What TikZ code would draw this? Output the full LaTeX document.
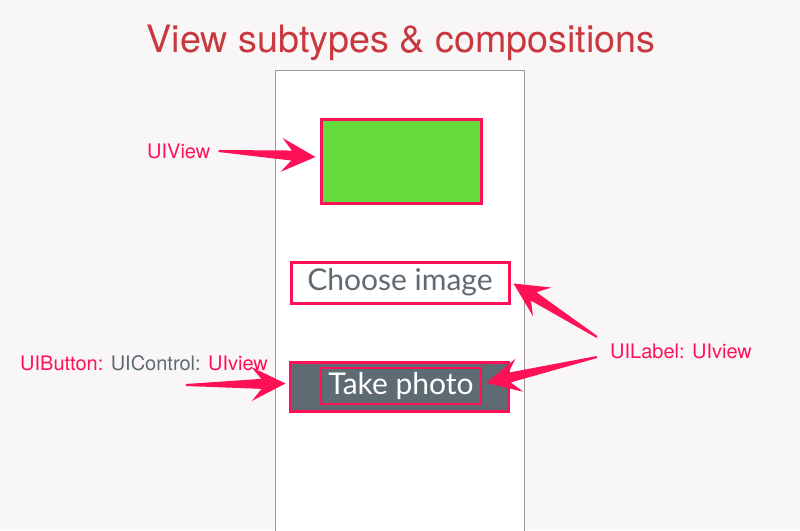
\documentclass[tikz,border=0pt]{standalone}
\usepackage{fontspec}
\setmainfont{TeX Gyre Heros}
\newfontfamily\btnfont{Lato}
\usepackage{tikz}
\usetikzlibrary{calc,positioning}

\definecolor{bgcol}{HTML}{F8F6F7}
\definecolor{titlered}{HTML}{C8383E}
\definecolor{hotpink}{HTML}{FF1158}
\definecolor{slategray}{HTML}{5F6B73}
\definecolor{viewgreen}{HTML}{64DA3C}
\definecolor{framegray}{HTML}{9A9A9A}

% tapered arrow in the style of a screenshot markup tool
\newcommand{\skarrow}[2]{%
  \coordinate (hb) at ($(#2)!24pt!(#1)$);
  \coordinate (hw) at ($(#2)!34pt!(#1)$);
  \fill[hotpink] ($(#1)!1pt!90:(#2)$) -- ($(hb)!5pt!-90:(#1)$)
    -- ($(hw)!17pt!-90:(#1)$) -- (#2) -- ($(hw)!17pt!90:(#1)$)
    -- ($(hb)!5pt!90:(#1)$) -- ($(#1)!1pt!-90:(#2)$) -- cycle;
}

\begin{document}
\begin{tikzpicture}[
    x=1pt, y=-1pt,
    box/.style={rectangle, draw=hotpink, line width=3pt, inner sep=0pt},
    btntext/.style={font=\btnfont\fontsize{30}{32}\selectfont},
    tag/.style={font=\fontsize{20}{22}\selectfont, text=hotpink, inner sep=0pt}
]

% Background and bounding box
\fill[bgcol] (0,0) rectangle (800,530);
\useasboundingbox (0,0) rectangle (800,530);

% Title
\node[font=\fontsize{37.7}{40}\selectfont, text=titlered, anchor=base] (title) at (401,52) {View subtypes \& compositions};

% Draw the phone screen
\draw[framegray, fill=white, line width=0.8pt] (275,532) -- (275,70) -- (524,70) -- (524,532);

% Subviews
\node[box, fill=viewgreen, minimum width=160pt, minimum height=84pt] (green) at (401,161) {};
\node[box, fill=white, minimum width=218pt, minimum height=41pt, btntext, text=slategray] (choose) at (400,282.5) {Choose image};
\node[box, fill=slategray, minimum width=218pt, minimum height=49pt] (button) at (399,386.5) {};
\node[box, line width=2.5pt, minimum width=160pt, minimum height=36pt, btntext, text=white] (photo) at (401,386) {Take photo};

% Type labels
\node[tag, anchor=west] (uiview) at (147,151) {UIView};
\node[tag, anchor=west] (uilabel) at (610,351) {UILabel: UIview};
\node[tag, anchor=west] (uibutton) at (20,363) {UIButton: \textcolor{slategray}{UIControl:} UIview};

% Arrows
\coordinate (t1) at ([xshift=8pt]uiview.east);
\coordinate (h1) at ([xshift=-4pt, yshift=4pt]green.west);
\skarrow{t1}{h1}
\coordinate (t2) at ([xshift=-13pt, yshift=14pt]uilabel.west);
\coordinate (h2) at ([xshift=3pt, yshift=-1pt]choose.east);
\skarrow{t2}{h2}
\coordinate (t3) at ([xshift=-13pt, yshift=-6pt]uilabel.west);
\coordinate (h3) at ([xshift=4pt, yshift=3pt]photo.east);
\skarrow{t3}{h3}
\coordinate (t4) at ([xshift=166pt, yshift=-22pt]uibutton.west);
\coordinate (h4) at ([xshift=-3pt, yshift=3pt]button.west);
\skarrow{t4}{h4}

\end{tikzpicture}
\end{document}
